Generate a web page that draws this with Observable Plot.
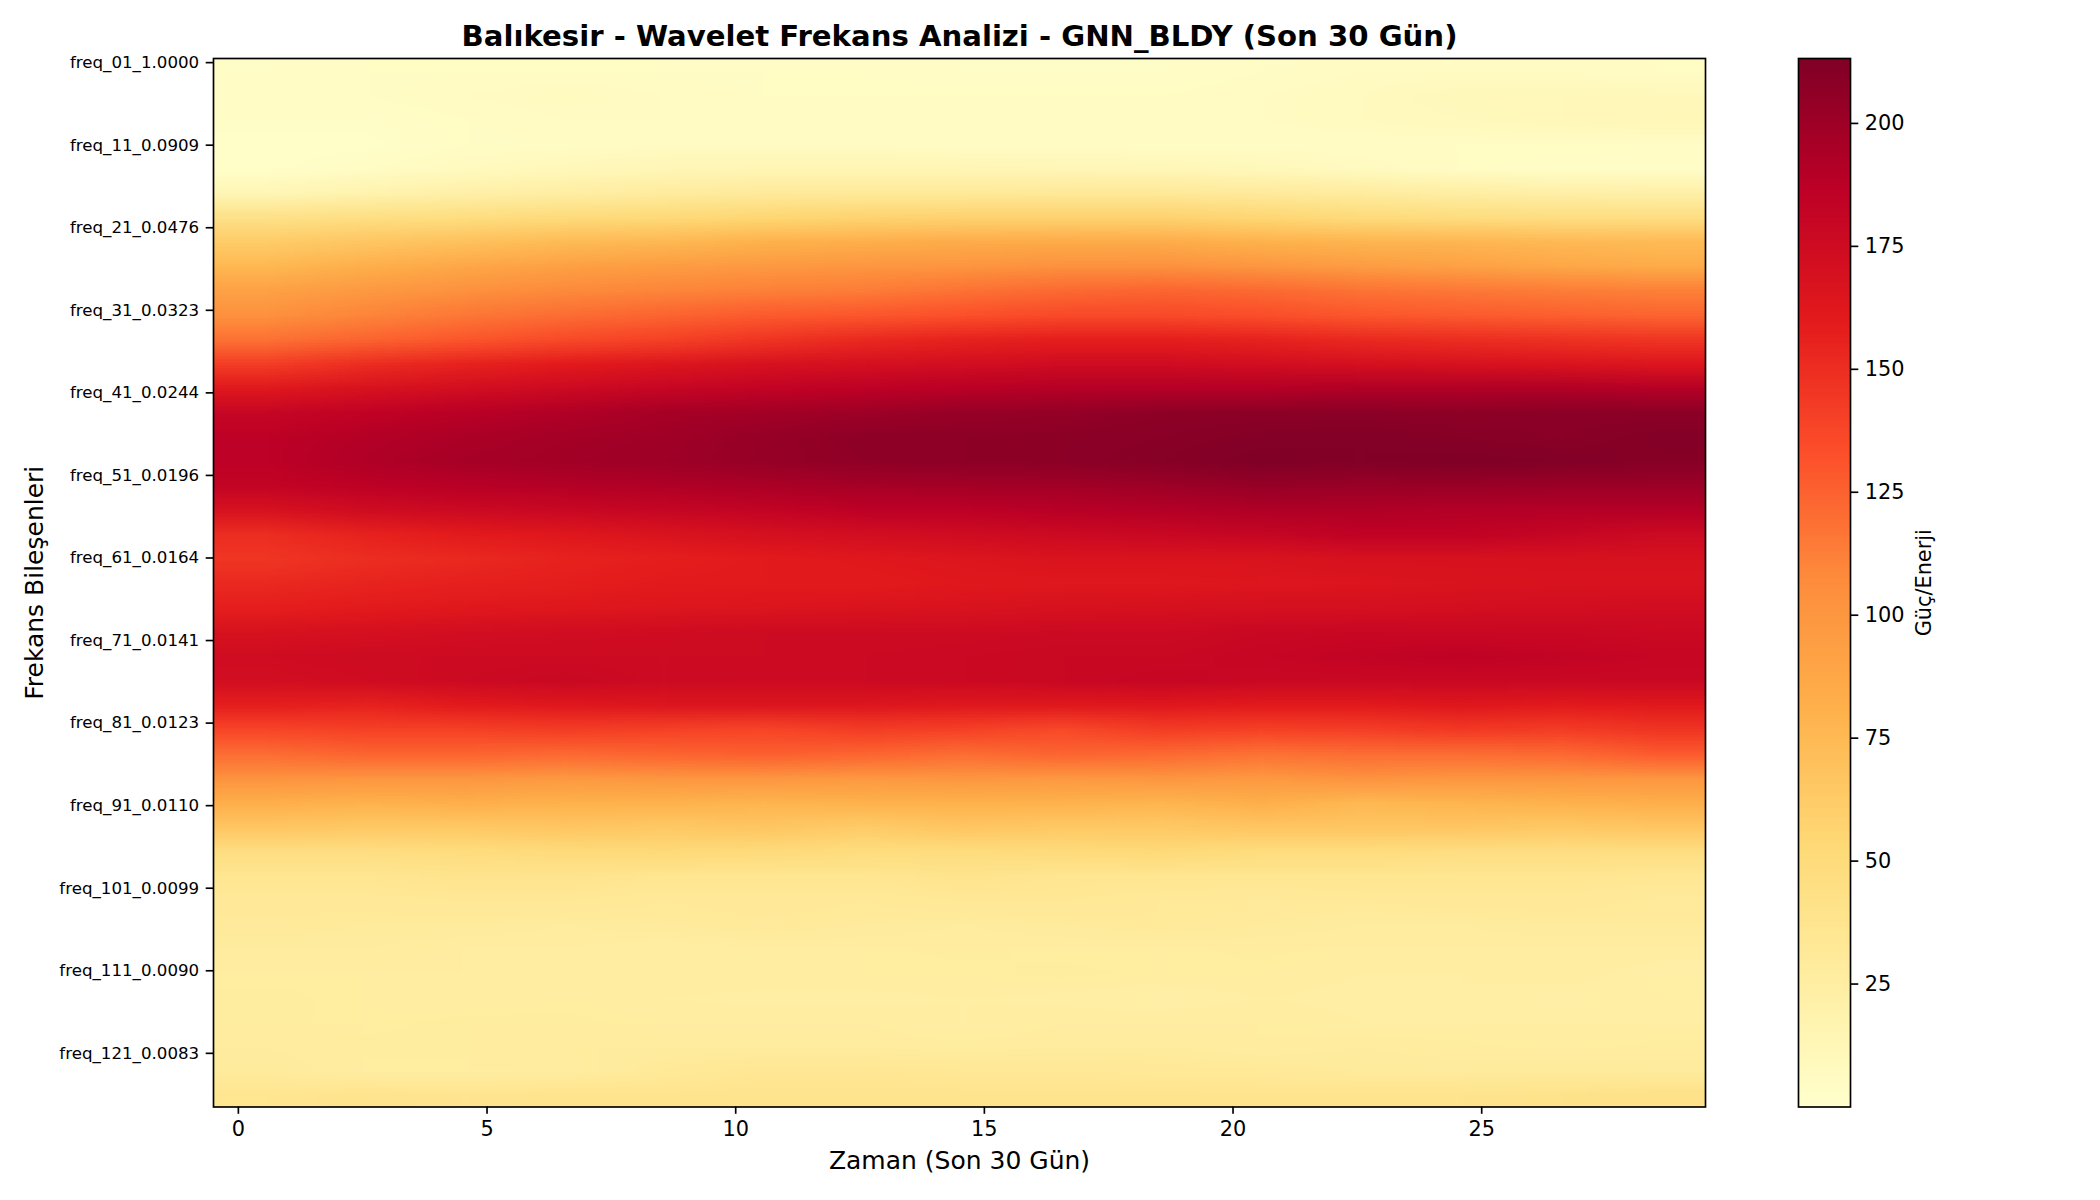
<!DOCTYPE html>
<html><head><meta charset="utf-8">
<style>
html,body{margin:0;padding:0;background:#fff;}
#wrap{position:relative;width:2100px;height:1200px;overflow:hidden;font-family:"DejaVu Sans";}
#wrap>svg{position:absolute;top:0;left:0;background:transparent;}
</style>
<script src="https://cdn.jsdelivr.net/npm/d3@7"></script>
<script src="https://cdn.jsdelivr.net/npm/@observablehq/plot@0.6"></script>
</head><body><div id="wrap"></div>
<script>
const titleText = "Balıkesir - Wavelet Frekans Analizi - GNN_BLDY (Son 30 Gün)";
const xLabel = "Zaman (Son 30 Gün)";
const yLabel = "Frekans Bileşenleri";
const barLabel = "Güç/Enerji";
const xTicks = [0,5,10,15,20,25];
const yTickIndex = [0,10,20,30,40,50,60,70,80,90,100,110,120];
const yTickLabels = ["freq_01_1.0000","freq_11_0.0909","freq_21_0.0476","freq_31_0.0323","freq_41_0.0244","freq_51_0.0196","freq_61_0.0164","freq_71_0.0141","freq_81_0.0123","freq_91_0.0110","freq_101_0.0099","freq_111_0.0090","freq_121_0.0083"];
const barTicks = [25,50,75,100,125,150,175,200];
const colorStops = [0,26.65,53.3,79.95,106.6,133.25,159.9,186.55,213.2];
const colorRange = ["#ffffcc","#ffeda0","#fed976","#feb24c","#fd8d3c","#fc4e2a","#e31a1c","#bd0026","#800026"];
// power: 43 frequency bands (top to bottom) x 15 two-day bins
const powerRows = [
[3,4,5,5,4,4,4,3,3,3,4,6,6,6,5],
[4,4,6,7,6,5,5,5,5,5,6,8,10,11,10],
[3,3,5,6,6,6,6,6,6,6,6,8,9,11,12],
[2,2,4,5,6,6,6,5,5,5,5,5,5,5,4],
[2,4,8,11,13,14,14,14,13,12,10,7,5,3,3],
[14,18,22,25,28,30,31,31,32,32,30,28,25,23,22],
[42,45,47,50,52,55,57,58,58,58,55,50,48,46,46],
[62,66,70,74,76,80,82,84,85,84,80,78,77,75,74],
[76,82,88,93,96,98,100,101,104,104,100,96,92,88,85],
[92,98,104,108,110,112,114,118,122,124,122,118,116,114,112],
[104,110,116,120,124,128,130,133,136,136,134,130,128,126,124],
[118,124,130,136,140,146,152,156,158,158,156,152,150,148,146],
[142,150,156,160,164,168,170,172,174,174,172,170,168,166,164],
[162,168,172,176,180,183,186,188,190,190,190,192,192,192,190],
[180,184,188,192,196,198,200,203,204,207,208,208,207,208,208],
[186,190,194,197,199,203,207,207,208,209,211,212,210,209,211],
[186,192,196,198,200,203,206,207,208,210,213,212,213,212,210],
[182,186,188,190,192,194,196,197,198,200,203,202,202,201,201],
[168,174,176,178,180,182,186,186,188,190,192,192,190,190,190],
[150,156,160,163,166,170,172,174,176,178,180,184,184,180,176],
[146,150,152,156,158,160,162,164,166,166,166,168,168,168,168],
[152,155,157,158,160,160,160,162,163,163,164,165,166,167,167],
[158,160,162,163,164,165,166,167,168,169,170,170,171,172,173],
[168,170,172,173,174,175,175,175,176,176,178,179,178,178,177],
[174,175,175,175,175,175,176,177,178,178,180,182,184,182,180],
[172,174,176,178,175,176,176,177,178,180,178,178,178,178,178],
[158,156,160,162,164,164,164,162,162,162,160,160,163,160,161],
[138,140,140,142,140,138,142,140,136,142,140,141,144,142,146],
[120,124,124,122,124,126,124,120,124,122,118,120,120,122,128],
[102,100,100,98,100,100,98,100,98,100,98,102,100,100,100],
[82,80,82,80,80,78,80,80,80,78,82,76,78,80,82],
[66,64,64,66,64,66,62,66,64,64,66,66,66,64,66],
[46,46,48,50,52,50,48,48,50,52,48,48,46,46,46],
[36,36,38,38,36,36,36,38,36,36,36,36,36,36,34],
[32,32,33,33,31,32,31,33,33,31,30,31,32,32,30],
[30,29,29,28,29,30,29,28,29,30,29,28,28,29,29],
[28,28,26,26,25,26,26,27,26,26,27,26,26,26,26],
[26,26,26,26,26,26,26,26,27,26,26,25,25,26,23],
[27,26,25,26,25,24,24,25,24,23,25,24,25,23,24],
[27,26,27,27,26,26,26,25,26,26,26,25,25,25,25],
[28,27,27,28,28,28,28,27,28,28,27,28,27,26,27],
[29,26,26,27,31,34,34,33,33,32,31,29,29,29,29],
[36,38,37,38,38,38,38,38,38,38,38,38,38,40,42]
];
const font = "DejaVu Sans";
const colorOpt = {type:"linear", domain:colorStops, range:colorRange, interpolate:"rgb"};

const main = Plot.plot({
  width:2100, height:1200,
  marginLeft:213, marginRight:395, marginTop:58, marginBottom:93.5,
  style:{fontFamily:font, background:"transparent", color:"#000"},
  x:{domain:[-0.5,29.5]},
  y:{domain:[126.5,-0.5]},
  color:colorOpt,
  marks:[
    Plot.raster(powerRows.flat(), {width:powerRows[0].length, height:powerRows.length, x1:-0.5, x2:29.5, y1:-0.5, y2:126.5}),
    Plot.frame({stroke:"#000", strokeWidth:1.67}),
    Plot.axisX({ticks:xTicks, tickSize:7.3, tickPadding:7, strokeWidth:1.67, fontSize:20.83, label:xLabel, labelAnchor:"center", labelArrow:"none", labelOffset:62, tickFormat:d=>d}),
    Plot.axisY({ticks:yTickIndex, tickSize:7.3, tickPadding:7, strokeWidth:1.67, fontSize:16.67, label:yLabel, labelAnchor:"center", labelArrow:"none", labelOffset:188, tickFormat:d=>yTickLabels[yTickIndex.indexOf(d)]}),
    Plot.text([titleText], {text:d=>d, frameAnchor:"top", dy:-33, fontSize:29.17, fontWeight:"bold", fill:"#000"})
  ]
});
main.querySelectorAll('[aria-label="x-axis label"] text,[aria-label="y-axis label"] text').forEach(t=>t.setAttribute("font-size","25"));
document.getElementById("wrap").appendChild(main);

const ramp = d3.range(0,213.2,0.4).reverse();
const bar = Plot.plot({
  width:2100, height:1200,
  marginLeft:1798, marginRight:250, marginTop:58, marginBottom:93.5,
  style:{fontFamily:font, background:"transparent", color:"#000"},
  x:{axis:null, domain:[0,1]},
  y:{domain:[0,213.2]},
  color:colorOpt,
  marks:[
    Plot.raster(ramp, {width:1, height:ramp.length, x1:0, x2:1, y1:213.2, y2:0}),
    Plot.frame({stroke:"#000", strokeWidth:1.67}),
    Plot.axisY({anchor:"right", ticks:barTicks, tickSize:7.3, tickPadding:7, strokeWidth:1.67, fontSize:20.83, label:barLabel, labelAnchor:"center", labelArrow:"none", labelOffset:80})
  ]
});
document.getElementById("wrap").appendChild(bar);
</script></body></html>
